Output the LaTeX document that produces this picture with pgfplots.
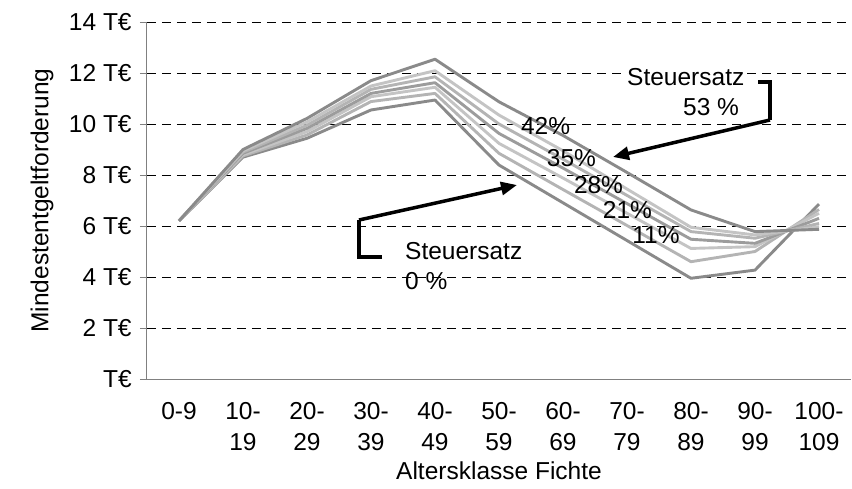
\documentclass[border=0pt]{standalone}
\usepackage{pgfplots}
\pgfplotsset{compat=1.18}
\usepackage{pgfplotstable}
\usepackage{fontspec}
\setmainfont{Liberation Sans}
\usetikzlibrary{arrows.meta}

\definecolor{darkline}{HTML}{8A8A8A}
\definecolor{midline}{HTML}{9C9C9C}
\definecolor{lightA}{HTML}{C4C4C4}
\definecolor{lightB}{HTML}{B4B4B4}
\definecolor{axisgray}{HTML}{808080}

% Mindestentgeltforderung je Altersklasse, Spalten = Steuersatz
\pgfplotstableread{
x  s0    s11   s21   s28   s35   s42   s53
0  6.20  6.20  6.20  6.20  6.20  6.20  6.20
1  8.70  8.75  8.80  8.85  8.90  8.95  9.00
2  9.44  9.57  9.70  9.83  9.95  10.08 10.22
3  10.55 10.88 11.07 11.20 11.36 11.49 11.70
4  10.94 11.20 11.44 11.62 11.85 12.09 12.54
5  8.39  8.85  9.24  9.63  10.00 10.35 10.87
6  6.91  7.43  7.88  8.27  8.62  8.95  9.55
7  5.43  6.02  6.50  6.88  7.20  7.45  8.10
8  3.95  4.60  5.12  5.48  5.78  5.95  6.63
9  4.27  5.00  5.19  5.32  5.52  5.65  5.78
10 6.86  6.65  6.50  6.30  6.10  5.97  5.87
}\datatab

\begin{document}
\fontsize{24.5}{31}\selectfont
\begin{tikzpicture}
\useasboundingbox (-147pt,-109pt) rectangle (705pt,379pt);
\begin{axis}[
    scale only axis,
    width=704pt, height=357pt,
    xmin=-0.5, xmax=10.5,
    ymin=0, ymax=14,
    axis lines=left,
    axis line style={axisgray, line width=1pt, -},
    clip=false,
    tick align=outside,
    major tick length=7pt,
    minor tick length=6pt,
    xtick={0,...,10},
    xticklabels={0-9,10-\\19,20-\\29,30-\\39,40-\\49,50-\\59,60-\\69,70-\\79,80-\\89,90-\\99,100-\\109},
    xtick style={draw=none},
    minor xtick={-0.5,0.5,...,10.5},
    minor x tick style={axisgray, line width=1pt},
    xticklabel style={align=center, anchor=north, yshift=-8pt},
    ytick={2,4,...,14},
    yticklabels={2 T€,4 T€,6 T€,8 T€,10 T€,12 T€,14 T€},
    extra y ticks={0},
    extra y tick labels={T€},
    extra y tick style={grid=none},
    ytick style={axisgray, line width=1pt},
    yticklabel style={anchor=east, xshift=0pt},
    ymajorgrids,
    grid style={black, line width=0.9pt, dash pattern=on 9pt off 6pt},
    xlabel={Altersklasse Fichte},
    ylabel={Mindestentgeltforderung},
    xlabel style={yshift=6pt},
    ylabel style={yshift=-15pt},
    every axis plot/.append style={line width=2.9pt, line join=round},
]
\addplot[darkline]  table[x=x, y=s0]  {\datatab};
\addplot[lightB]    table[x=x, y=s11] {\datatab};
\addplot[lightA]    table[x=x, y=s21] {\datatab};
\addplot[midline]   table[x=x, y=s28] {\datatab};
\addplot[lightB]    table[x=x, y=s35] {\datatab};
\addplot[lightA]    table[x=x, y=s42] {\datatab};
\addplot[darkline]  table[x=x, y=s53] {\datatab};

% Beschriftungen der Kurven
\node at (axis cs:5.727,9.92) {42\%};
\node at (axis cs:6.133,8.65) {35\%};
\node at (axis cs:6.555,7.61) {28\%};
\node at (axis cs:7.008,6.63) {21\%};
\node at (axis cs:7.453,5.65) {11\%};

% Steuersatz 0 %
\draw[black, line width=3.5pt] (axis cs:3.172,4.784) -- (axis cs:2.8125,4.784) -- (axis cs:2.8125,6.235);
\draw[black, line width=3.5pt, -{Triangle[length=16pt, width=13pt]}] (axis cs:2.8125,6.235) -- (axis cs:5.281,7.608);
\node[anchor=west, inner sep=0pt] at (axis cs:3.531,5.02) {Steuersatz};
\node[anchor=west, inner sep=0pt] at (axis cs:3.531,3.84) {0 \%};

% Steuersatz 53 %
\draw[black, line width=3.5pt] (axis cs:9.047,11.647) -- (axis cs:9.234,11.647) -- (axis cs:9.234,10.157);
\draw[black, line width=3.5pt, -{Triangle[length=16pt, width=13pt]}] (axis cs:9.234,10.157) -- (axis cs:6.781,8.706);
\node[anchor=west, inner sep=0pt, fill=white] at (axis cs:7.0,11.84) {Steuersatz};
\node[anchor=west, inner sep=0pt] at (axis cs:7.875,10.67) {53 \%};
\end{axis}
\end{tikzpicture}
\end{document}
